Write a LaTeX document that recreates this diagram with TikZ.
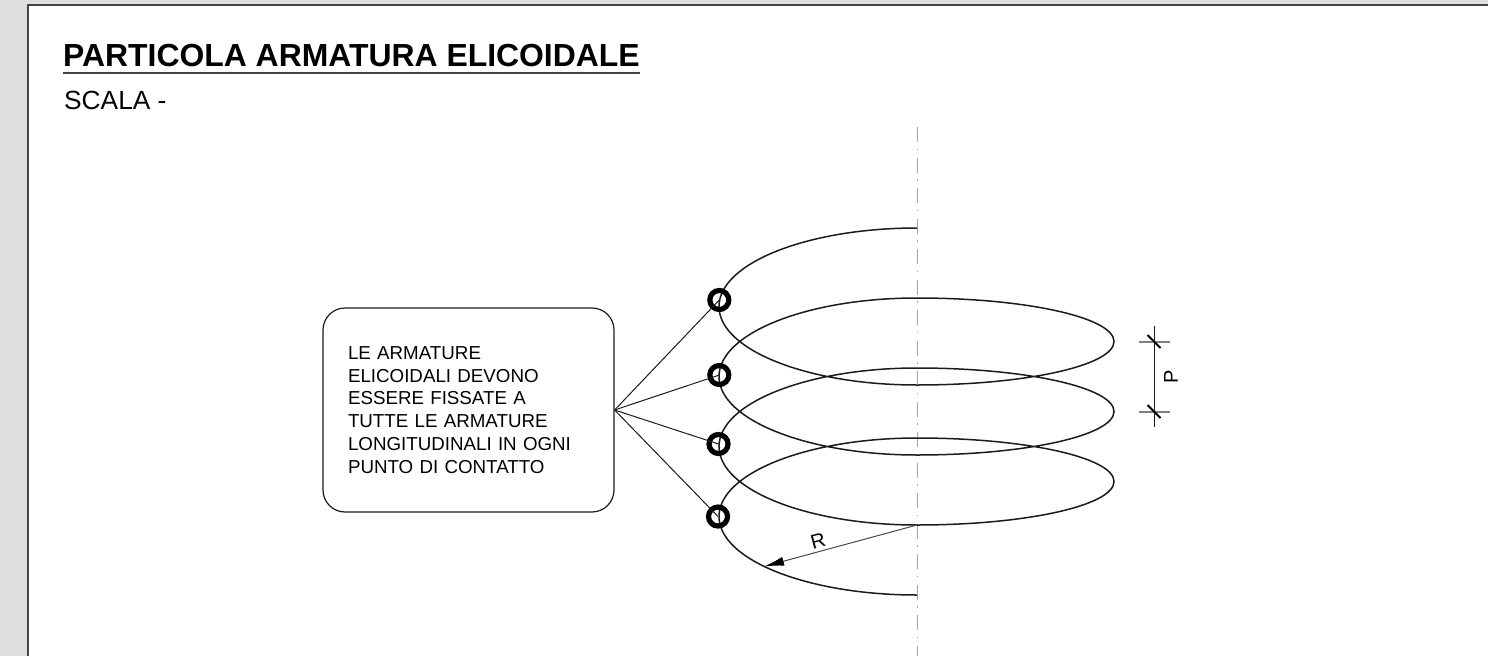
\documentclass[tikz,border=0pt]{standalone}
\usepackage{fontspec}
\setmainfont{Liberation Sans}
\usetikzlibrary{arrows.meta}
\definecolor{pagegrey}{HTML}{DEDEDE}
\definecolor{ink}{HTML}{1C1C1C}
\definecolor{frameink}{HTML}{444444}
\tikzset{
  helix/.style={draw=ink,line width=1.5pt},
  leader/.style={draw=ink,line width=1pt},
  ringnode/.style={circle,draw=black,line width=5.2pt,minimum size=19pt,inner sep=0pt,outer sep=0pt},
  notebox/.style={draw=ink,line width=1.2pt,rounded corners=22pt,minimum width=291pt,minimum height=204pt,
    inner xsep=25pt,inner ysep=0pt,text width=241pt,align=left,font=\fontsize{18.75}{22.9}\selectfont},
  axisline/.style={draw=gray!70,line width=0.9pt,dash pattern=on 15pt off 6.5pt on 1.5pt off 7.5pt},
  dimline/.style={draw=ink,line width=1pt},
  extline/.style={draw=gray,line width=1.3pt},
  slash/.style={draw=black,line width=1.9pt},
  lbl/.style={inner sep=0pt,font=\fontsize{20}{22}\selectfont}
}
\begin{document}
\begin{tikzpicture}[x=1pt,y=-1pt]
\useasboundingbox (0,0) rectangle (1488,656);
\fill[pagegrey] (0,0) rectangle (1488,656);
\fill[white] (28,5) rectangle (1488,656);
\draw[frameink,line width=1.4pt] (28,656) -- (28,5) -- (1488,5);
% title
\node[anchor=base west,inner sep=0pt,font=\fontsize{31.9}{34}\selectfont\bfseries] (title) at (63,66.5) {PARTICOLA ARMATURA ELICOIDALE};
\coordinate (ul1) at (63,72.7);
\coordinate (ul2) at (640,72.7);
\draw[frameink,line width=1.8pt] (ul1) -- (ul2);
\node[anchor=base west,inner sep=0pt,font=\fontsize{26.3}{28}\selectfont] (scale) at (64,109.5) {SCALA -};
% axis
\coordinate (axT) at (917,127);
\coordinate (axB) at (917,656);
\draw[axisline] (axT) -- (axB);
% helix
\draw[helix] (917,228)
  arc[start angle=90,end angle=270,x radius=198pt,y radius=78.5pt]
  arc[start angle=270,end angle=450,x radius=197pt,y radius=43.5pt]
  arc[start angle=90,end angle=270,x radius=198pt,y radius=78.5pt]
  arc[start angle=270,end angle=450,x radius=197pt,y radius=43.5pt]
  arc[start angle=90,end angle=270,x radius=198pt,y radius=78.5pt]
  arc[start angle=270,end angle=450,x radius=197pt,y radius=43.5pt]
  arc[start angle=90,end angle=270,x radius=198pt,y radius=78.5pt];
% note box
\node[notebox] (box) at (468.5,410) {LE ARMATURE\\ELICOIDALI DEVONO\\ESSERE FISSATE A\\TUTTE LE ARMATURE\\LONGITUDINALI IN OGNI\\PUNTO DI CONTATTO};
% rings
\node[ringnode] (r1) at (719.3,300) {};
\node[ringnode] (r2) at (719.3,375) {};
\node[ringnode] (r3) at (718.5,444) {};
\node[ringnode] (r4) at (718,516.5) {};
\foreach \r in {r1,r2,r3,r4}{\draw[leader] (box.east) -- (\r.center);}
% radius
\coordinate (rA) at (917,525);
\coordinate (rB) at (764,566.5);
\draw[draw=ink!80,line width=1pt,-{Latex[black,length=20pt,width=9pt]}] (rA) -- (rB);
\node[lbl,rotate=15] (Rlab) at (818,541) {R};
% pitch
\coordinate (pT) at (1154,326);
\coordinate (pB) at (1154,427);
\draw[dimline] (pT) -- (pB);
\coordinate (e1a) at (1139,342);
\coordinate (e1b) at (1170,342);
\coordinate (e2a) at (1139,412);
\coordinate (e2b) at (1170,412);
\draw[extline] (e1a) -- (e1b);
\draw[extline] (e2a) -- (e2b);
\coordinate (s1a) at (1147.5,335);
\coordinate (s1b) at (1160.5,348);
\coordinate (s2a) at (1147.5,405);
\coordinate (s2b) at (1160.5,418);
\draw[slash] (s1a) -- (s1b);
\draw[slash] (s2a) -- (s2b);
\node[lbl,rotate=90] (Plab) at (1171,377) {P};
\end{tikzpicture}
\end{document}
